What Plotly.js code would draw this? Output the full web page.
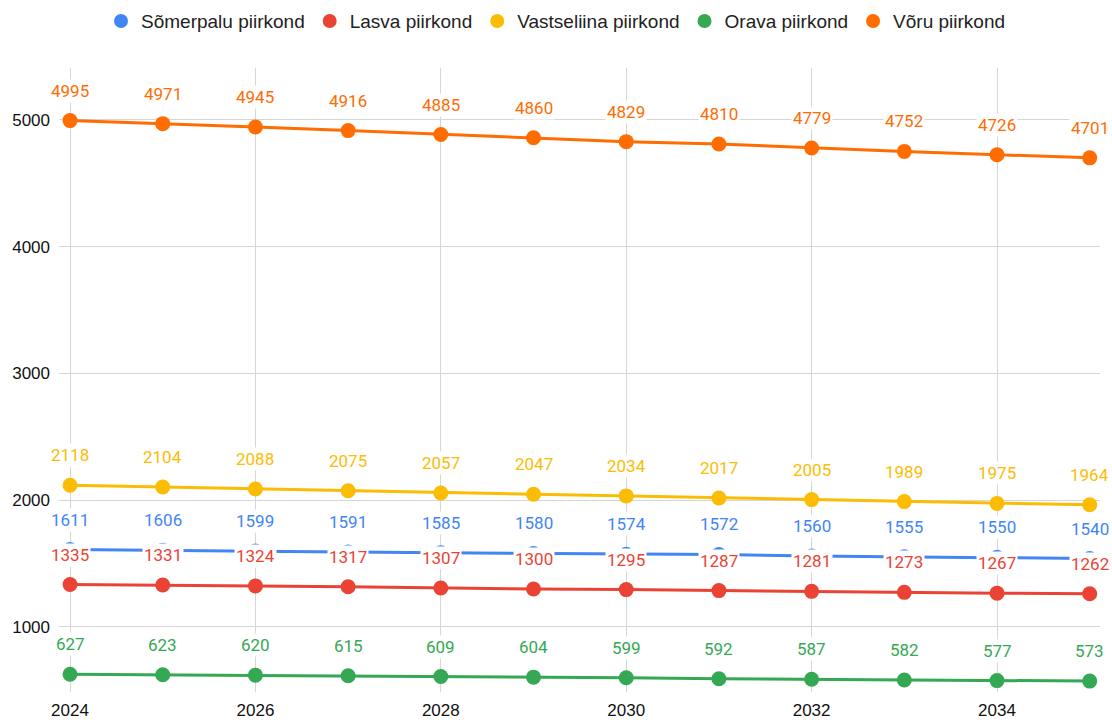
<!DOCTYPE html>
<html>
<head>
<meta charset="utf-8">
<script src="https://cdn.plot.ly/plotly-3.0.1.min.js"></script>
<style>
html,body{margin:0;padding:0;background:#fff;}
#chart{width:1112px;height:720px;}
</style>
</head>
<body>
<div id="chart"></div>
<script>
const years = [2024, 2025, 2026, 2027, 2028, 2029, 2030, 2031, 2032, 2033, 2034, 2035];
const seriesNames = ["Sõmerpalu piirkond", "Lasva piirkond", "Vastseliina piirkond", "Orava piirkond", "Võru piirkond"];
const somerpalu = [1611, 1606, 1599, 1591, 1585, 1580, 1574, 1572, 1560, 1555, 1550, 1540];
const lasva = [1335, 1331, 1324, 1317, 1307, 1300, 1295, 1287, 1281, 1273, 1267, 1262];
const vastseliina = [2118, 2104, 2088, 2075, 2057, 2047, 2034, 2017, 2005, 1989, 1975, 1964];
const orava = [627, 623, 620, 615, 609, 604, 599, 592, 587, 582, 577, 573];
const voru = [4995, 4971, 4945, 4916, 4885, 4860, 4829, 4810, 4779, 4752, 4726, 4701];
const colors = ["#4285F4", "#EA4335", "#FBBC04", "#34A853", "#FF6D01"];
const xTicks = [2024, 2026, 2028, 2030, 2032, 2034];
const yTicks = [1000, 2000, 3000, 4000, 5000];

const allSeries = [somerpalu, lasva, vastseliina, orava, voru];

const traces = allSeries.map((vals, i) => ({
  type: "scatter",
  mode: "lines+markers",
  name: seriesNames[i],
  x: years,
  y: vals,
  showlegend: false,
  line: {color: colors[i], width: 3},
  marker: {color: colors[i], size: 15},
  hoverinfo: "x+y+name"
}));

// legend-only entries (dot symbol like the reference)
const legendTraces = seriesNames.map((n, i) => ({
  type: "scatter",
  mode: "markers",
  name: n,
  x: [null],
  y: [null],
  showlegend: true,
  marker: {color: colors[i], size: 14}
}));

const annotations = [];
allSeries.forEach((vals, i) => {
  vals.forEach((v, j) => {
    annotations.push({
      x: years[j], y: v, xref: "x", yref: "y",
      text: String(v),
      showarrow: false,
      yshift: 30,
      bgcolor: "#ffffff",
      borderpad: 1,
      font: {family: "Roboto, sans-serif", size: 17, color: colors[i]}
    });
  });
});

const layout = {
  width: 1112, height: 720,
  margin: {l: 59, r: 12, t: 68, b: 28},
  paper_bgcolor: "#fff",
  plot_bgcolor: "#fff",
  showlegend: true,
  legend: {
    orientation: "h",
    xref: "container", yref: "container",
    x: 0.5, xanchor: "center",
    y: 0.997, yanchor: "top",
    font: {family: "Liberation Sans, Arial, sans-serif", size: 19, color: "#222"},
    itemwidth: 30,
    traceorder: "normal"
  },
  xaxis: {
    range: [2023.881, 2035.111],
    tickvals: xTicks,
    ticktext: xTicks.map(String),
    showgrid: true, gridcolor: "#d6d6d6", gridwidth: 1,
    zeroline: false, showline: false, ticks: "",
    ticklabelstandoff: 6,
    tickfont: {family: "Liberation Sans, Arial, sans-serif", size: 17, color: "#111"}
  },
  yaxis: {
    range: [487, 5410],
    tickvals: yTicks,
    ticktext: yTicks.map(String),
    showgrid: true, gridcolor: "#d6d6d6", gridwidth: 1,
    zeroline: false, showline: false, ticks: "",
    ticklabelstandoff: 8,
    tickfont: {family: "Liberation Sans, Arial, sans-serif", size: 17, color: "#111"}
  },
  annotations: annotations
};

Plotly.newPlot("chart", traces.concat(legendTraces), layout, {displayModeBar: false, staticPlot: true});
</script>
</body>
</html>
